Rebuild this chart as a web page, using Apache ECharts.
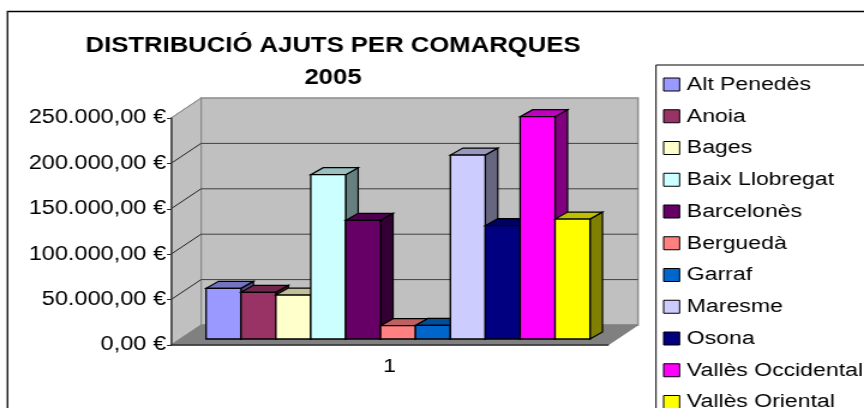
<!DOCTYPE html>
<html>
<head>
<meta charset="utf-8">
<style>
  html, body { margin: 0; padding: 0; background: #fff; overflow: hidden; }
  /* the original picture is stretched sideways, text included */
  #chart { width: 720px; height: 408px; transform: scaleX(1.2); transform-origin: 0 0; }
</style>
</head>
<body>
<div id="chart"></div>
<script src="https://cdn.jsdelivr.net/npm/echarts@6/dist/echarts.min.js"></script>
<script>
var categories = ["1"];
var comarques = ["Alt Penedès", "Anoia", "Bages", "Baix Llobregat", "Barcelonès", "Berguedà", "Garraf", "Maresme", "Osona", "Vallès Occidental", "Vallès Oriental"];
var imports = [55800, 51400, 48400, 181000, 130700, 14700, 14900, 202600, 124800, 244800, 132100];
var colors = ["#9999ff", "#993366", "#ffffcc", "#ccffff", "#660066", "#ff8080", "#0066cc", "#ccccff", "#000080", "#ff00ff", "#ffff00"];
var yTicks = [0, 50000, 100000, 150000, 200000, 250000];

var FONT = "Liberation Sans";
var SX = 1.2;
function px(x) { return x / SX; }

// depth of the box and of a single bar
var WALL_DX = px(30), WALL_DY = 20;
var BAR_DX = px(12.5), BAR_DY = 7;
// bars stand a little behind the front edge of the floor
var PLANE_DX = px(8.5), PLANE_DY = 6;
var BAR_W = px(34.9);

function shade(hex, k) {
  var n = parseInt(hex.slice(1), 16);
  var r = Math.round((n >> 16 & 255) * k);
  var g = Math.round((n >> 8 & 255) * k);
  var b = Math.round((n & 255) * k);
  return "rgb(" + r + "," + g + "," + b + ")";
}

function poly(points, fill, stroke, width) {
  return {
    type: "polygon",
    shape: { points: points },
    style: { fill: fill, stroke: stroke, lineWidth: width, lineJoin: "miter" }
  };
}

function renderWalls(params, api) {
  var bottom = api.coord([0, 0]);
  var top = api.coord([0, yTicks[yTicks.length - 1]]);
  var band = api.size([1, 0])[0];
  var l = bottom[0] - band / 2, r = bottom[0] + band / 2;
  var y0 = bottom[1], y1 = top[1];
  return {
    type: "group",
    children: [
      poly([[l + WALL_DX, y1 - WALL_DY], [r + WALL_DX, y1 - WALL_DY], [r + WALL_DX, y0 - WALL_DY], [l + WALL_DX, y0 - WALL_DY]], "#c0c0c0", "#8c8c8c", 1.5),
      poly([[l, y1], [l + WALL_DX, y1 - WALL_DY], [l + WALL_DX, y0 - WALL_DY], [l, y0]], "#c0c0c0", "#8c8c8c", 1),
      poly([[l, y0], [r, y0], [r + WALL_DX, y0 - WALL_DY], [l + WALL_DX, y0 - WALL_DY]], "#808080", "#808080", 1)
    ]
  };
}

function renderGrid(params, api) {
  var p = api.coord([0, api.value(1)]);
  var band = api.size([1, 0])[0];
  var l = p[0] - band / 2, r = p[0] + band / 2, y = p[1];
  if (api.value(1) === 0) return null;
  var back = y - WALL_DY;
  var isTop = api.value(1) === yTicks[yTicks.length - 1];
  var lines = isTop ? [] : [
    { type: "line", shape: { x1: l + WALL_DX, y1: back, x2: r + WALL_DX, y2: back }, style: { stroke: "#404040", lineWidth: 1 } }
  ];
  lines.push({ type: "line", shape: { x1: l, y1: y, x2: l + WALL_DX, y2: back }, style: { stroke: isTop ? "#8c8c8c" : "#202020", lineWidth: 1 } });
  return { type: "group", children: lines };
}

function renderBar(seriesIdx) {
  return function (params, api) {
    var top = api.coord([0, api.value(1)]);
    var base = api.coord([0, 0]);
    var band = api.size([1, 0])[0];
    var x0 = base[0] - band / 2 + PLANE_DX + (band - comarques.length * BAR_W) / 2 + seriesIdx * BAR_W;
    var x1 = x0 + BAR_W;
    var y0 = base[1] - PLANE_DY;
    var y1 = top[1] - PLANE_DY;
    var c = colors[seriesIdx];
    return {
      type: "group",
      children: [
        poly([[x1, y0], [x1 + BAR_DX, y0 - BAR_DY], [x1 + BAR_DX, y1 - BAR_DY], [x1, y1]], shade(c, 0.5), "#000", 1.2),
        poly([[x0, y1], [x1, y1], [x1 + BAR_DX, y1 - BAR_DY], [x0 + BAR_DX, y1 - BAR_DY]], shade(c, 0.75), "#000", 1.2),
        poly([[x0, y0], [x1, y0], [x1, y1], [x0, y1]], c, "#000", 1.3)
      ]
    };
  };
}

function euro(v) {
  var s = String(v).replace(/\B(?=(\d{3})+$)/g, ".");
  return s + ",00 €";
}

var series = [
  { name: "walls", type: "custom", renderItem: renderWalls, silent: true, clip: false, z: 1, data: [[0, 0]] },
  { name: "grid", type: "custom", renderItem: renderGrid, silent: true, clip: false, z: 1, data: yTicks.map(function (v) { return [0, v]; }) }
];
comarques.forEach(function (name, i) {
  series.push({
    name: name,
    type: "custom",
    renderItem: renderBar(i),
    clip: false,
    z: 3,
    itemStyle: { color: colors[i] },
    data: [[0, imports[i]]]
  });
});

var chart = echarts.init(document.getElementById("chart"), null, { renderer: "canvas" });
chart.setOption({
  animation: false,
  backgroundColor: "#fff",
  title: {
    text: "DISTRIBUCIÓ AJUTS PER COMARQUES\n2005",
    left: px(327),
    top: 25,
    textAlign: "center",
    textStyle: { fontFamily: FONT, fontWeight: "bold", fontSize: 21.4, lineHeight: 32, color: "#000" }
  },
  legend: {
    orient: "vertical",
    left: px(663),
    top: 75,
    height: 400,
    padding: 0,
    icon: "rect",
    itemWidth: px(16),
    itemHeight: 13,
    itemGap: 12.75,
    data: comarques,
    itemStyle: { borderColor: "#000", borderWidth: 1 },
    textStyle: { fontFamily: FONT, fontSize: 19.2, color: "#000", padding: [0, 0, 0, 1] }
  },
  graphic: [
    { type: "rect", silent: true, z: -10, shape: { x: px(7.5), y: 11.5, width: 900, height: 500 }, style: { fill: "#fff", stroke: "#000", lineWidth: 1.3 } },
    { type: "rect", silent: true, z: -9, shape: { x: px(656), y: 65, width: 300, height: 400 }, style: { fill: "#fff", stroke: "#000", lineWidth: 1 } }
  ],
  grid: { left: px(171), top: 118, width: px(437), height: 227 },
  xAxis: {
    type: "category",
    data: categories,
    axisLine: { lineStyle: { color: "#303030", width: 1.5 } },
    axisTick: { length: 4, lineStyle: { color: "#606060" } },
    axisLabel: { fontFamily: FONT, fontSize: 19.2, color: "#000", margin: 12 },
    z: 2
  },
  yAxis: {
    type: "value",
    min: 0,
    max: 250000,
    interval: 50000,
    splitLine: { show: false },
    axisLine: { show: true, lineStyle: { color: "#404040", width: 1.5 } },
    axisTick: { show: true, length: px(4), lineStyle: { color: "#202020" } },
    axisLabel: { fontFamily: FONT, fontSize: 19.6, color: "#000", margin: px(5), padding: [6, 0, 0, 0], formatter: euro },
    z: 2
  },
  series: series
});
</script>
</body>
</html>
